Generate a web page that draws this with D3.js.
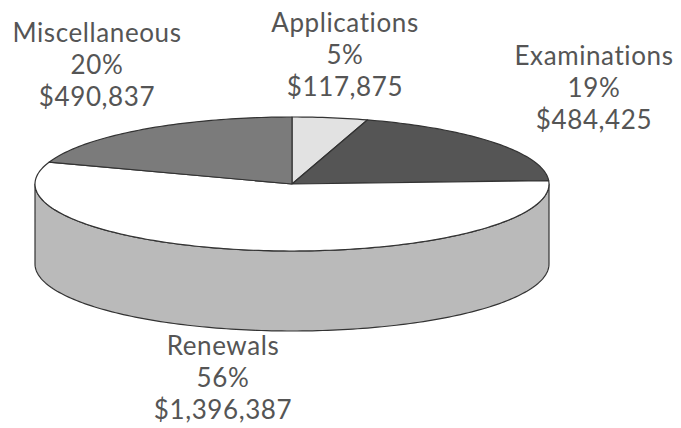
<!DOCTYPE html>
<html>
<head>
<meta charset="utf-8">
<script src="https://cdn.jsdelivr.net/npm/d3@7"></script>
<style>
  body { margin: 0; background: #fff; }
  text { font-family: Lato, "Open Sans", sans-serif; fill: #555; letter-spacing: 0.6px; }
</style>
</head>
<body>
<div id="chart"></div>
<script>
// data
var categories = ["Applications", "Examinations", "Renewals", "Miscellaneous"]
var amounts = [117875, 484425, 1396387, 490837]
var percentLabels = ["5%", "19%", "56%", "20%"]
var topColors = ["#e2e2e2", "#555555", "#ffffff", "#7b7b7b"]
var sideColors = ["#d0d0d0", "#444444", "#bababa", "#6a6a6a"]

var width = 681, height = 428
var cx = 292, cy = 184, rx = 257, ry = 67, depth = 80

var svg = d3.select("#chart").append("svg")
    .attr("width", width)
    .attr("height", height)

var pie = d3.pie().sort(null).value(function(d){ return d })
var arcs = pie(amounts)

function px(a) { return cx + rx * Math.sin(a) }
function py(a) { return cy - ry * Math.cos(a) }

function sample(a0, a1) {
    var n = Math.max(2, Math.ceil((a1 - a0) / 0.02))
    var pts = []
    for (var i = 0; i <= n; i++) {
        var a = a0 + (a1 - a0) * i / n
        pts.push([px(a), py(a)])
    }
    return pts
}

var line = d3.line()

// side wall - only the front half is visible
arcs.forEach(function(d, i){
    var a0 = Math.max(d.startAngle, Math.PI / 2)
    var a1 = Math.min(d.endAngle, Math.PI * 3 / 2)
    if (a1 <= a0) return
    var top = sample(a0, a1)
    var bottom = top.map(function(p){ return [p[0], p[1] + depth] }).reverse()
    svg.append("path")
        .attr("d", line(top.concat(bottom)) + "Z")
        .attr("fill", sideColors[i])
        .attr("stroke", "#333")
        .attr("stroke-width", 1.2)
        .attr("stroke-linejoin", "round")
})

// top face slices
arcs.forEach(function(d, i){
    var pts = [[cx, cy]].concat(sample(d.startAngle, d.endAngle))
    svg.append("path")
        .attr("d", line(pts) + "Z")
        .attr("fill", topColors[i])
        .attr("stroke", "#333")
        .attr("stroke-width", 1.2)
        .attr("stroke-linejoin", "round")
})

// labels, one text per line
var labelPos = [[345, 32], [594, 65], [223, 355], [97, 42]]
var fmt = d3.format("$,")
arcs.forEach(function(d, i){
    var lines = [categories[i], percentLabels[i], fmt(amounts[i])]
    lines.forEach(function(s, k){
        svg.append("text")
            .attr("text-anchor", "middle")
            .attr("font-size", 26)
            .attr("x", labelPos[i][0])
            .attr("y", labelPos[i][1] + k * 32)
            .text(s)
    })
})
</script>
</body>
</html>
